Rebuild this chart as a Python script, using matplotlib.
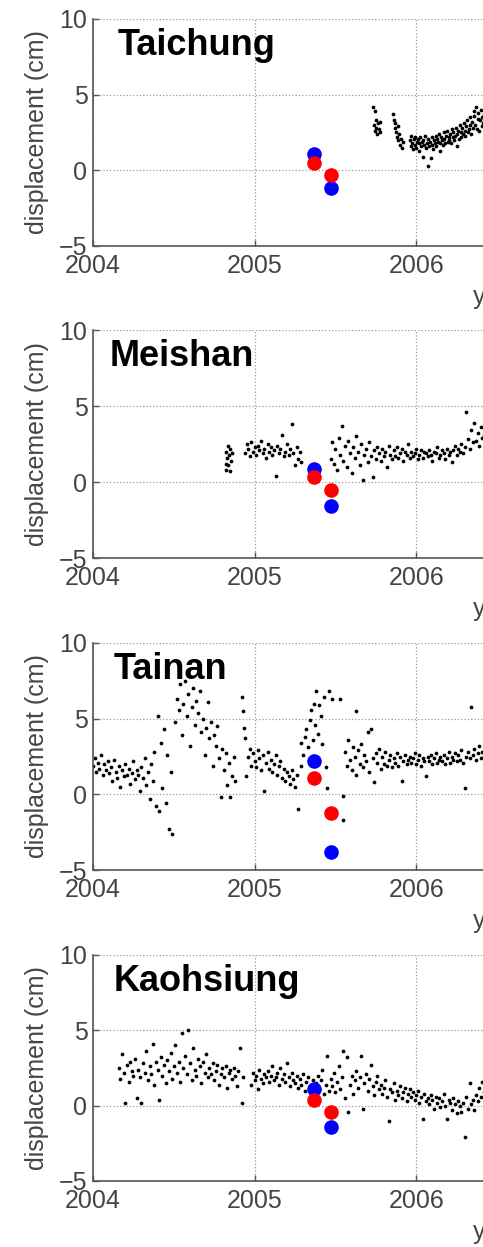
import matplotlib
matplotlib.use("Agg")
import matplotlib.pyplot as plt

plt.rcParams['font.family'] = ['Liberation Sans', 'DejaVu Sans']

stations = ["Taichung", "Meishan", "Tainan", "Kaohsiung"]

# two acquisition epochs shown as big dots
epoch_t = [2005.37, 2005.475]
blue_d = [[1.05, -1.15], [0.85, -1.6], [2.2, -3.8], [1.1, -1.4]]
red_d = [[0.5, -0.3], [0.3, -0.55], [1.05, -1.25], [0.4, -0.45]]

# ---- GPS daily solutions ----
taichung_t = [
    2005.735, 2005.738, 2005.742, 2005.745, 2005.750, 2005.754, 2005.758, 2005.763, 2005.768, 2005.773, 2005.778,
    2005.858, 2005.862, 2005.866, 2005.871, 2005.876, 2005.880, 2005.885, 2005.890, 2005.895, 2005.900, 2005.906,
    2005.912, 2005.918,
    2005.960, 2005.965, 2005.970, 2005.975, 2005.980, 2005.985, 2005.990, 2005.995, 2006.000, 2006.005,
    2006.010, 2006.015, 2006.020, 2006.025, 2006.030, 2006.035, 2006.040, 2006.045, 2006.050, 2006.055,
    2006.060, 2006.065, 2006.070, 2006.075, 2006.080, 2006.085, 2006.090, 2006.095, 2006.100, 2006.105,
    2006.110, 2006.115, 2006.120, 2006.125, 2006.130, 2006.135, 2006.140, 2006.145, 2006.150, 2006.155,
    2006.160, 2006.165, 2006.170, 2006.175, 2006.180, 2006.185, 2006.190, 2006.195, 2006.200, 2006.205,
    2006.210, 2006.215, 2006.220, 2006.225, 2006.230, 2006.235, 2006.240, 2006.245, 2006.250, 2006.255,
    2006.260, 2006.265, 2006.270, 2006.275, 2006.280, 2006.285, 2006.290, 2006.295, 2006.300, 2006.305,
    2006.310, 2006.315, 2006.320, 2006.325, 2006.330, 2006.335, 2006.340, 2006.345, 2006.350, 2006.355,
    2006.360, 2006.365, 2006.370, 2006.375, 2006.380, 2006.385, 2006.390, 2006.395, 2006.400, 2006.405,
    2006.410, 2006.415, 2006.420, 2006.425]
taichung_d = [
    4.2, 3.0, 3.9, 2.6, 3.3, 2.8, 2.4, 3.1, 2.7, 3.2, 2.5,
    3.7, 3.3, 2.8, 3.1, 2.5, 2.2, 2.9, 2.0, 2.4, 1.7, 2.1,
    1.5, 1.9,
    2.0, 1.6, 2.3, 1.8, 1.4, 2.1, 1.7, 2.2, 1.5, 1.9,
    2.1, 1.3, 1.8, 2.2, 1.6, 1.9, 0.9, 2.0, 1.7, 2.3,
    1.5, 1.8, 0.3, 2.1, 1.6, 1.9, 0.8, 2.2, 1.7, 1.4,
    2.0, 1.8, 2.3, 1.6, 2.1, 1.9, 2.4, 1.3, 1.8, 2.2,
    2.0, 1.7, 2.5, 2.1, 1.8, 2.3, 2.6, 1.9, 2.2, 2.0,
    2.4, 1.8, 2.7, 2.2, 2.5, 2.0, 2.3, 2.8, 1.6, 2.4,
    2.6, 2.1, 3.0, 2.5, 2.2, 2.8, 2.4, 3.1, 2.6, 2.3,
    2.9, 3.3, 2.5, 2.7, 3.0, 3.5, 2.4, 3.2, 2.8, 3.6,
    3.9, 3.0, 4.2, 2.7, 3.4, 3.8, 2.6, 3.3, 4.0, 2.9,
    3.5, 3.1, 3.7, 2.8]

meishan_t = [
    2004.820, 2004.823, 2004.826, 2004.830, 2004.834, 2004.838, 2004.842, 2004.846, 2004.850, 2004.855, 2004.860,
    2004.94, 2004.95, 2004.96, 2004.97, 2004.98, 2004.99, 2005.00, 2005.01, 2005.02, 2005.03,
    2005.04, 2005.05, 2005.06, 2005.07, 2005.08, 2005.09, 2005.10, 2005.11, 2005.12, 2005.13,
    2005.14, 2005.15, 2005.16, 2005.17, 2005.18, 2005.19, 2005.20, 2005.21, 2005.22, 2005.23,
    2005.24, 2005.25, 2005.26, 2005.27, 2005.28, 2005.29,
    2005.47, 2005.48, 2005.49, 2005.50, 2005.51, 2005.52, 2005.53, 2005.54, 2005.55, 2005.56,
    2005.57, 2005.58, 2005.59, 2005.60, 2005.61, 2005.62, 2005.63, 2005.64, 2005.65, 2005.66,
    2005.67, 2005.68, 2005.69, 2005.70, 2005.71, 2005.72, 2005.73, 2005.74, 2005.75, 2005.76,
    2005.77, 2005.78, 2005.79, 2005.80, 2005.81, 2005.82, 2005.83, 2005.84, 2005.85, 2005.86,
    2005.87, 2005.88, 2005.89, 2005.90, 2005.91, 2005.92, 2005.93, 2005.94, 2005.95, 2005.96,
    2005.97, 2005.98, 2005.99, 2006.00, 2006.01, 2006.02, 2006.03, 2006.04, 2006.05, 2006.06,
    2006.07, 2006.08, 2006.09, 2006.10, 2006.11, 2006.12, 2006.13, 2006.14, 2006.15, 2006.16,
    2006.17, 2006.18, 2006.19, 2006.20, 2006.21, 2006.22, 2006.23, 2006.24, 2006.25, 2006.26,
    2006.27, 2006.28, 2006.29, 2006.30, 2006.31, 2006.32, 2006.33, 2006.34, 2006.35, 2006.36,
    2006.37, 2006.38, 2006.39, 2006.40, 2006.41, 2006.42]
meishan_d = [
    1.2, 2.0, 0.8, 1.6, 2.4, 1.1, 1.8, 0.7, 2.2, 1.4, 1.9,
    1.9, 2.5, 2.2, 1.7, 2.6, 2.0, 2.3, 1.8, 2.4, 2.1,
    2.7, 1.9, 2.2, 1.6, 2.5, 2.0, 2.3, 1.8, 2.1, 0.4,
    2.4, 1.9, 2.2, 3.1, 1.7, 2.0, 2.5, 1.8, 2.2, 3.8,
    1.9, 1.1, 2.3, 1.5, 2.0, 1.3,
    1.5, 2.6, 1.2, 2.2, 0.8, 2.9, 1.8, 3.7, 1.4, 2.4,
    1.0, 2.7, 1.9, 0.6, 2.3, 1.6, 3.0, 2.0, 1.1, 2.5,
    0.1, 1.8, 2.2, 1.3, 2.6, 1.7, 0.3, 2.1, 1.5, 2.3,
    1.9, 1.4, 2.2, 1.7, 2.0, 1.0, 2.4, 1.8, 1.5, 2.1,
    1.7, 2.3, 1.6, 1.9, 2.2, 1.4, 2.0, 1.8, 2.5, 1.6,
    2.0, 1.7, 1.9, 2.2, 1.5, 1.8, 2.1, 1.6, 2.0, 1.9,
    1.7, 2.1, 1.8, 1.4, 2.0, 1.9, 2.3, 1.6, 1.8, 2.1,
    1.9, 1.5, 2.2, 1.8, 2.0, 1.3, 2.1, 2.4, 1.8, 2.2,
    2.0, 2.5, 1.9, 2.3, 4.6, 2.8, 2.2, 3.4, 2.6, 3.9,
    2.7, 3.2, 2.4, 3.6, 2.9, 3.1]

tainan_t = [
    2004.00, 2004.01, 2004.02, 2004.03, 2004.04, 2004.05, 2004.06, 2004.07, 2004.08, 2004.09,
    2004.10, 2004.11, 2004.12, 2004.13, 2004.14, 2004.15, 2004.16, 2004.17, 2004.18, 2004.19,
    2004.20, 2004.21, 2004.22, 2004.23, 2004.24, 2004.25, 2004.26, 2004.27, 2004.28, 2004.29,
    2004.30, 2004.31, 2004.32, 2004.33, 2004.34, 2004.35, 2004.36, 2004.37, 2004.38, 2004.39,
    2004.40, 2004.41, 2004.42, 2004.43, 2004.44, 2004.45, 2004.46, 2004.47, 2004.48, 2004.49,
    2004.51, 2004.52, 2004.53, 2004.54, 2004.55, 2004.56, 2004.57, 2004.58, 2004.59, 2004.60,
    2004.61, 2004.62, 2004.63, 2004.64, 2004.65, 2004.66, 2004.67, 2004.68, 2004.69, 2004.70,
    2004.71, 2004.72, 2004.73, 2004.74, 2004.75, 2004.76, 2004.77, 2004.78, 2004.79, 2004.80,
    2004.81, 2004.82, 2004.83, 2004.84, 2004.85, 2004.86, 2004.87, 2004.88,
    2004.925, 2004.930, 2004.935, 2004.940, 2004.945,
    2004.96, 2004.97, 2004.98, 2004.99,
    2005.00, 2005.01, 2005.02, 2005.03, 2005.04, 2005.05, 2005.06, 2005.07, 2005.08, 2005.09,
    2005.10, 2005.11, 2005.12, 2005.13, 2005.14, 2005.15, 2005.16, 2005.17, 2005.18, 2005.19,
    2005.20, 2005.21, 2005.22, 2005.23, 2005.24, 2005.25, 2005.26, 2005.27,
    2005.285, 2005.29, 2005.30, 2005.31, 2005.32, 2005.33, 2005.34, 2005.35, 2005.36, 2005.37,
    2005.375, 2005.38, 2005.39, 2005.40, 2005.41, 2005.42, 2005.43, 2005.44, 2005.445, 2005.46,
    2005.48, 2005.53, 2005.545, 2005.55, 2005.63,
    2005.56, 2005.57, 2005.58, 2005.59, 2005.60, 2005.61, 2005.62, 2005.63, 2005.64, 2005.65,
    2005.66, 2005.67, 2005.68, 2005.69, 2005.70, 2005.71, 2005.72, 2005.73, 2005.74, 2005.75,
    2005.76, 2005.77, 2005.78, 2005.79, 2005.80, 2005.81, 2005.82, 2005.83, 2005.84, 2005.85,
    2005.86, 2005.87, 2005.88, 2005.89, 2005.90, 2005.91, 2005.92, 2005.93, 2005.94, 2005.95,
    2005.96, 2005.97, 2005.98, 2005.99, 2006.00, 2006.01, 2006.02, 2006.03, 2006.04, 2006.05,
    2006.06, 2006.07, 2006.08, 2006.09, 2006.10, 2006.11, 2006.12, 2006.13, 2006.14, 2006.15,
    2006.16, 2006.17, 2006.18, 2006.19, 2006.20, 2006.21, 2006.22, 2006.23, 2006.24, 2006.25,
    2006.26, 2006.27, 2006.28, 2006.29, 2006.30, 2006.31, 2006.32, 2006.33, 2006.34, 2006.35,
    2006.36, 2006.37, 2006.38, 2006.39, 2006.40, 2006.41, 2006.42]
tainan_d = [
    1.9, 2.4, 1.5, 2.1, 1.7, 2.6, 1.3, 2.0, 1.6, 2.2,
    1.4, 1.8, 0.9, 2.3, 1.5, 1.1, 1.9, 0.5, 1.6, 1.2,
    2.0, 1.3, 1.7, 0.7, 1.4, 2.2, 1.0, 1.6, 1.3, 0.2,
    1.8, 1.1, 2.4, 0.6, 1.5, -0.3, 2.0, 0.9, 2.8, -0.8,
    5.2, -1.1, 3.4, 0.4, 4.3, -0.6, 2.6, -2.3, 1.5, -2.6,
    4.8, 6.3, 5.6, 7.3, 3.9, 6.0, 7.5, 5.2, 6.6, 3.2,
    5.8, 7.0, 4.6, 6.2, 5.4, 6.8, 4.1, 5.0, 2.6, 4.4,
    6.1, 3.7, 4.8, 1.9, 3.9, 3.2, 4.5, 2.4, -0.2, 3.0,
    1.6, 2.7, 0.6, 2.1, -0.2, 1.2, 2.5, 0.9,
    6.4, 5.5, 4.4, 3.7, 1.2,
    2.5, 3.0, 1.9, 2.7,
    2.2, 1.8, 2.9, 2.4, 1.6, 2.6, 0.2, 2.1, 2.8, 1.7,
    2.3, 1.5, 2.0, 2.6, 1.3, 1.9, 2.2, 1.1, 1.7, 0.9,
    1.5, 1.2, 0.7, 1.6, 1.0, 0.5, 1.3, -1.0,
    1.9, 3.4, 2.6, 3.8, 4.3, 3.1, 4.9, 5.6, 3.6, 6.0,
    4.6, 6.8, 4.0, 5.9, 5.2, 3.3, 6.4, 1.8, 0.4, 6.8,
    6.3, 6.3, -0.1, -1.7, 5.5,
    2.8, 1.9, 3.6, 2.3, 1.6, 3.1, 2.5, 1.3, 2.9, 2.0,
    3.3, 1.8, 2.6, 2.2, 4.1, 1.5, 4.3, 2.4, 0.8, 2.7,
    2.1, 3.0, 1.7, 2.5, 2.0, 2.8, 1.9, 2.3, 2.6, 1.8,
    2.4, 2.1, 2.7, 1.9, 2.5, 0.85, 2.2, 2.6, 2.0, 2.3,
    2.5, 2.1, 2.4, 2.7, 2.0, 2.3, 2.6, 1.9, 2.4, 2.2,
    1.2, 2.5, 2.2, 2.6, 2.0, 2.4, 2.7, 2.1, 2.3, 2.5,
    2.2, 2.6, 2.0, 2.4, 2.8, 2.1, 2.5, 2.3, 2.7, 2.2,
    2.6, 2.3, 2.9, 2.1, 0.45, 2.5, 2.8, 2.4, 5.8, 2.6,
    3.0, 2.3, 2.7, 3.2, 2.4, 2.8, 2.5]

kaohsiung_t = [
    2004.16, 2004.17, 2004.18, 2004.19, 2004.20, 2004.21, 2004.22, 2004.23, 2004.24, 2004.25,
    2004.26, 2004.27, 2004.28, 2004.29, 2004.30, 2004.31, 2004.32, 2004.33, 2004.34, 2004.35,
    2004.36, 2004.37, 2004.38, 2004.39, 2004.40, 2004.41, 2004.42, 2004.43, 2004.44, 2004.45,
    2004.46, 2004.47, 2004.48, 2004.49, 2004.50, 2004.51, 2004.52, 2004.53, 2004.54, 2004.55,
    2004.56, 2004.57, 2004.58, 2004.59, 2004.60, 2004.61, 2004.62, 2004.63, 2004.64, 2004.65,
    2004.66, 2004.67, 2004.68, 2004.69, 2004.70, 2004.71, 2004.72, 2004.73, 2004.74, 2004.75,
    2004.76, 2004.77, 2004.78, 2004.79, 2004.80, 2004.81, 2004.82, 2004.83, 2004.84, 2004.85,
    2004.86, 2004.87, 2004.88, 2004.89, 2004.90, 2004.91, 2004.92, 2004.93,
    2004.98, 2004.99, 2005.00, 2005.01, 2005.02, 2005.03, 2005.04, 2005.05, 2005.06, 2005.07,
    2005.08, 2005.09, 2005.10, 2005.11, 2005.12, 2005.13, 2005.14, 2005.15, 2005.16, 2005.17,
    2005.18, 2005.19, 2005.20, 2005.21, 2005.22, 2005.23, 2005.24, 2005.25, 2005.26, 2005.27,
    2005.28, 2005.29, 2005.30, 2005.31, 2005.32, 2005.33, 2005.34, 2005.35, 2005.36, 2005.37,
    2005.38, 2005.39, 2005.40, 2005.41, 2005.42, 2005.43, 2005.44, 2005.45, 2005.46, 2005.47,
    2005.48, 2005.49, 2005.50, 2005.51, 2005.52, 2005.53, 2005.54, 2005.55, 2005.56, 2005.57,
    2005.58, 2005.59, 2005.60, 2005.61, 2005.62, 2005.63, 2005.64, 2005.65, 2005.66, 2005.67,
    2005.68, 2005.69, 2005.70, 2005.71, 2005.72, 2005.73, 2005.74, 2005.75, 2005.76, 2005.77,
    2005.78, 2005.79, 2005.80, 2005.81, 2005.82, 2005.83, 2005.84, 2005.85, 2005.86, 2005.87,
    2005.88, 2005.89, 2005.90, 2005.91, 2005.92, 2005.93, 2005.94, 2005.95, 2005.96, 2005.97,
    2005.98, 2005.99, 2006.00, 2006.01, 2006.02, 2006.03, 2006.04, 2006.05, 2006.06, 2006.07,
    2006.08, 2006.09, 2006.10, 2006.11, 2006.12, 2006.13, 2006.14, 2006.15, 2006.16, 2006.17,
    2006.18, 2006.19, 2006.20, 2006.21, 2006.22, 2006.23, 2006.24, 2006.25, 2006.26, 2006.27,
    2006.28, 2006.29, 2006.30, 2006.31, 2006.32, 2006.33, 2006.34, 2006.35, 2006.36, 2006.37,
    2006.38, 2006.39, 2006.40, 2006.41, 2006.42]
kaohsiung_d = [
    2.5, 1.8, 3.4, 2.2, 0.2, 2.7, 1.6, 2.9, 2.3, 2.0,
    3.1, 0.5, 2.4, 1.9, 0.2, 2.8, 2.2, 3.6, 1.7, 2.6,
    2.1, 4.1, 1.4, 2.9, 2.4, 0.4, 3.2, 2.0, 2.7, 1.5,
    3.0, 2.3, 3.5, 1.8, 2.6, 4.0, 2.2, 2.9, 1.6, 4.8,
    2.5, 3.3, 2.1, 5.0, 2.8, 1.7, 3.8, 2.4, 2.0, 3.1,
    2.6, 1.5, 2.9, 2.2, 3.4, 1.9, 2.5, 2.1, 2.8, 1.7,
    2.3, 2.7, 1.4, 2.1, 2.5, 1.9, 2.6, 1.2, 2.2, 2.4,
    1.8, 2.5, 2.0, 1.3, 2.3, 3.85, 0.2, 1.9,
    1.4, 2.2, 1.7, 2.0, 1.1, 2.4, 1.8, 1.5, 2.1, 1.9,
    2.3, 1.6, 2.0, 2.6, 1.7, 1.9, 2.2, 1.4, 2.5, 1.8,
    2.1, 1.6, 2.8, 1.9, 1.3, 2.2, 1.7, 1.5, 2.0, 1.2,
    1.8, 1.4, 2.1, 1.0, 1.6, 1.9, 1.3, 0.9, 1.7, 1.2,
    1.5, 2.0, 1.1, 1.7, 2.4, 0.8, 1.4, 3.3, 1.0, 1.8,
    1.3, 2.2, 0.9, 1.6, 2.6, 1.1, 1.9, 3.65, 0.5, 3.2,
    -0.45, 1.4, 2.0, 0.8, 1.7, 2.3, 1.2, 1.9, 3.3, -0.2,
    1.5, 2.1, 1.0, 1.8, 2.7, 1.3, 0.7, 1.6, 2.0, 1.1,
    1.4, 0.8, 1.2, 1.7, 0.6, -1.0, 1.1, 0.9, 1.5, 0.4,
    1.0, 0.7, 1.3, 0.5, 0.9, 1.2, 0.3, 0.8, 1.1, 0.6,
    0.9, 0.4, 0.7, 1.0, 0.2, 0.6, -0.9, 0.8, 0.3, 0.5,
    0.1, 0.7, 0.4, -0.2, 0.6, 0.2, 0.5, -0.1, 0.3, 0.8,
    0.0, -0.9, 0.4, 0.2, -0.3, 0.5, 0.1, -0.5, 0.3, 0.0,
    -0.4, 0.2, -2.1, 0.6, -0.2, 1.5, 0.1, 0.4, -0.3, 0.7,
    0.3, 1.2, 0.6, 1.6, 0.9]

gps_t = [taichung_t, meishan_t, tainan_t, kaohsiung_t]
gps_d = [taichung_d, meishan_d, tainan_d, kaohsiung_d]

xticks = [2004, 2005, 2006, 2007, 2008, 2009]
yticks = [-5, 0, 5, 10]

# layout in pixels of the 483x1247 canvas (the axes run off the right edge)
W, H = 483, 1247
top_px = [19, 330, 643, 955]
bot_px = [246, 558, 870, 1181]
left_px, width_px = 93, 808
title_x = [2004.155, 2004.105, 2004.125, 2004.125]

fig = plt.figure(figsize=(W / 100, H / 100), dpi=100)

for i, name in enumerate(stations):
    ax = fig.add_axes([left_px / W, 1 - bot_px[i] / H,
                       width_px / W, (bot_px[i] - top_px[i]) / H])
    ax.plot(gps_t[i], gps_d[i], 'o', color='k', ms=2.7, mew=0, ls='none')
    ax.plot(epoch_t, blue_d[i], 'o', color='#0000ff', ms=10.5, mew=0, ls='none')
    ax.plot(epoch_t, red_d[i], 'o', color='#ff0000', ms=10.5, mew=0, ls='none')

    ax.set_xlim(2004, 2009)
    ax.set_ylim(-5, 10)
    ax.set_xticks(xticks)
    ax.set_yticks(yticks)
    ax.grid(True, linestyle=':', color='#999999', linewidth=0.9)
    for s in ['top', 'right']:
        ax.spines[s].set_visible(False)
    for s in ['left', 'bottom']:
        ax.spines[s].set_color('#555555')
        ax.spines[s].set_linewidth(1.2)
    ax.tick_params(direction='in', length=4, width=1, colors='#555555',
                   labelsize=18, labelcolor='#444444')
    ax.tick_params(axis='x', pad=6)
    ax.tick_params(axis='y', pad=4)
    ax.set_ylabel('displacement (cm)', fontsize=18, color='#444444', labelpad=7)
    ax.set_xlabel('year', fontsize=18, color='#444444', labelpad=5)
    ax.text(title_x[i], 7.6, name, fontsize=26, fontweight='bold',
            ha='left', va='baseline', color='k')

fig.savefig('out.png', dpi=100)
